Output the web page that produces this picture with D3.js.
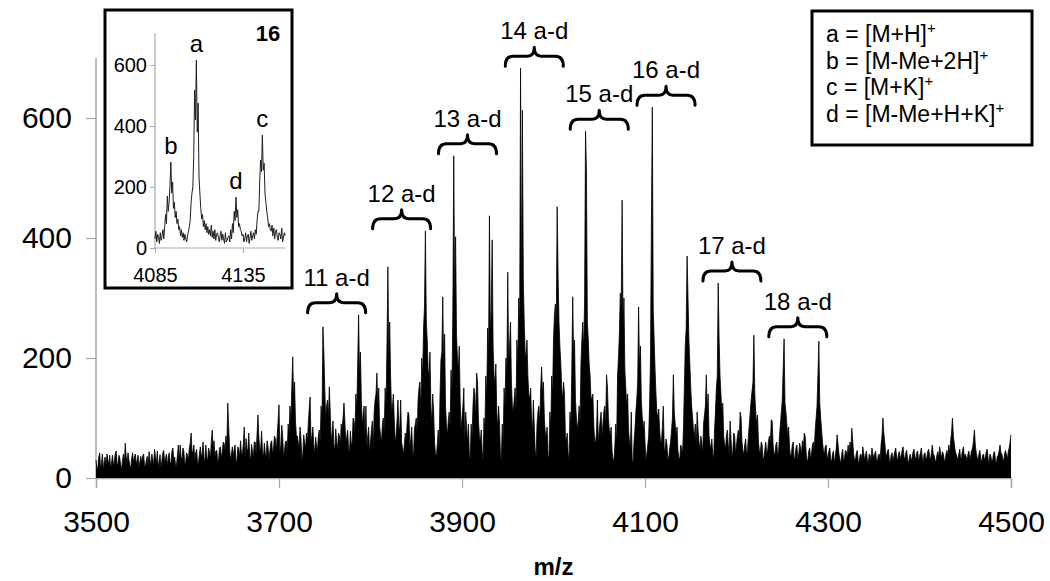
<!DOCTYPE html>
<html><head><meta charset="utf-8">
<script src="https://cdn.jsdelivr.net/npm/d3@7"></script>
<style>
body{margin:0;background:#fff}
svg{display:block}
text{font-family:"Liberation Sans",Arial,Helvetica,sans-serif;fill:#000}
</style>
</head><body>
<svg id="chart" width="1050" height="581"></svg>
<script>
// ---------------- DATA ----------------
const xTicks = [3500, 3700, 3900, 4100, 4300, 4500];
const yTicks = [0, 200, 400, 600];
const xTitle = "m/z";

// background spectrum (incl. peak shoulders), even m/z 3500..4500
const evenStart = 3500, evenStep = 2;
const backgroundEven = [
30,18,42,25,12,35,40,22,15,38,28,45,20,33,14,40,58,25,30,18,42,35,22,38,27,
25,40,18,36,44,20,31,48,24,15,39,28,46,33,19,42,27,50,35,22,40,55,30,45,26,
38,50,62,45,30,48,25,52,40,33,55,28,44,60,50,35,46,30,52,42,58,70,64,48,40,
36,55,30,48,62,40,58,66,45,38,56,33,60,72,68,50,42,58,35,52,45,62,48,66,70,
80,55,70,45,62,90,120,150,130,95,70,50,66,40,58,75,90,100,70,55,68,45,80,120,170,
150,120,100,110,75,55,82,48,70,90,100,95,68,50,78,60,95,140,190,170,130,105,72,50,85,
60,95,110,140,120,85,60,100,150,220,200,150,120,95,70,110,85,60,40,75,90,80,65,45,80,
100,130,160,200,250,300,230,170,120,90,60,35,80,140,210,180,120,70,110,180,280,300,240,180,130,
100,80,110,60,40,90,120,140,130,95,60,45,100,170,250,300,280,220,160,110,70,40,90,150,200,
250,220,160,110,150,230,300,350,320,260,200,170,130,100,70,45,90,120,150,140,100,70,40,110,170,
230,290,320,260,190,130,90,60,40,110,180,200,130,80,120,190,260,300,310,230,170,120,90,60,40,
80,110,90,120,130,100,70,45,30,90,170,240,280,250,180,120,80,50,30,60,110,160,180,130,80,
60,40,70,200,300,230,140,100,80,60,75,45,55,35,60,100,110,70,45,30,50,80,220,270,230,
150,100,70,50,80,45,60,90,120,110,70,50,40,80,150,200,170,110,70,50,80,40,65,45,70,
55,80,90,60,40,65,45,90,130,160,140,90,60,40,55,35,60,45,70,80,55,40,60,45,90,
130,150,110,70,50,40,60,35,55,40,50,62,60,45,30,50,40,60,80,120,150,100,60,40,55,
38,50,28,45,35,72,40,25,48,32,44,55,60,83,40,30,46,25,40,52,30,45,22,38,50,
32,45,28,40,55,100,60,35,48,25,42,36,50,28,44,38,52,30,46,24,40,34,48,30,45,
36,50,26,42,34,48,30,55,38,26,44,52,32,40,28,46,55,62,100,58,40,30,48,36,52,
40,28,45,38,50,80,42,30,46,26,40,34,48,24,36,30,44,22,38,55,40,28,46,32,50,
72
];
// background spectrum, odd m/z 3501..4499
const oddStart = 3501, oddStep = 2;
const backgroundOdd = [
12,35,15,40,28,20,30,38,26,20,40,25,38,22,30,24,35,42,20,33,26,40,30,18,36,
36,22,30,20,30,40,22,35,45,28,18,42,25,40,35,22,45,30,20,38,28,35,50,22,42,
30,58,40,55,42,22,40,35,60,28,35,50,32,38,62,45,28,50,35,60,45,52,85,30,52,
48,25,52,35,40,55,30,48,75,30,45,60,40,52,45,78,35,40,62,30,58,40,70,45,95,
40,88,35,60,40,75,95,110,160,70,60,85,30,72,50,60,115,60,85,40,55,70,60,95,210,
100,130,75,60,95,45,60,75,55,80,110,60,80,40,55,100,75,110,150,210,90,120,55,70,40,
80,50,130,95,150,70,90,75,120,180,260,110,140,60,95,80,130,50,55,60,110,50,85,35,90,
75,150,110,170,200,260,180,210,90,110,40,55,50,120,170,240,90,95,85,140,230,260,200,220,80,
120,55,85,90,30,65,150,100,160,70,80,30,75,130,200,240,320,170,190,80,90,30,60,120,170,
190,260,120,130,110,190,250,290,330,210,230,140,150,75,85,35,110,90,120,160,75,85,30,80,140,
270,250,340,220,150,160,70,75,30,80,150,230,100,95,90,230,210,250,260,190,130,140,60,75,55,
95,70,110,90,150,80,85,30,50,60,200,210,230,300,150,140,60,65,25,80,130,140,220,100,95,
30,55,120,260,280,180,110,115,60,85,50,65,30,50,80,140,90,85,35,55,40,150,250,300,190,
120,80,90,35,60,70,40,105,95,140,55,65,30,110,170,230,140,125,55,70,55,58,35,75,40,
70,60,100,45,55,40,70,110,145,190,110,105,45,60,30,48,40,62,55,95,40,55,35,70,110,
180,125,90,85,35,55,30,50,30,58,40,45,70,28,45,32,55,45,100,170,125,80,45,52,30,
45,30,40,25,50,55,30,40,28,46,36,40,48,62,30,42,28,38,30,42,38,30,40,28,40,
40,30,38,30,70,75,42,45,30,38,28,44,35,40,30,46,36,42,30,35,28,44,36,42,28,
42,34,40,30,44,36,42,40,30,38,32,42,44,30,40,35,42,75,70,45,35,40,30,46,34,
35,40,30,46,62,55,34,40,32,38,30,44,32,40,28,42,30,36,45,42,32,40,38,44,60
];

// peak series n (a,b,c,d ions)
const clusterNo = [9, 10, 11, 12, 13, 14, 15, 16, 17, 18];
const mzA = [3604, 3677, 3748, 3819, 3891, 3964, 4035, 4108, 4180, 4252];
const hA  = [75, 105, 252, 352, 537, 683, 578, 618, 325, 232];
const mzB = [3590, 3662, 3734, 3807, 3879, 3950, 4021, 4093, 4167, 4238];
const hB  = [55, 85, 135, 175, 302, 343, 302, 285, 172, 97];
const mzC = [3644, 3715, 3787, 3860, 3930, 4004, 4075, 4146, 4219, 4290];
const hC  = [125, 202, 272, 412, 437, 452, 463, 370, 238, 228];
const mzD = [3627, 3700, 3771, 3842, 3916, 3987, 4058, 4131, 4204, 4274];
const hD  = [80, 122, 125, 105, 175, 185, 172, 172, 110, 75];

// additional spikes
const extraMz = [3755, 3795, 3822, 3830, 3859, 3868, 3877, 3893, 3902, 3933, 3940, 3953, 3966, 3971, 3978, 4005, 4012, 4036, 4042, 4048, 4073, 4085, 4107, 4120, 4157, 4193];
const extraH  = [152, 120, 168, 130, 285, 140, 197, 402, 150, 397, 120, 230, 613, 200, 130, 300, 140, 512, 135, 130, 308, 110, 425, 120, 110, 95];

const labelledClusters = [11, 12, 13, 14, 15, 16, 17, 18];
const braceLabels = ["11 a-d", "12 a-d", "13 a-d", "14 a-d", "15 a-d", "16 a-d", "17 a-d", "18 a-d"];

// legend
const legendKeys = ["a", "b", "c", "d"];
const legendIons = ["[M+H]", "[M-Me+2H]", "[M+K]", "[M-Me+H+K]"];

// inset: series 16, m/z 4085..4159 every 0.5
const insetStart = 4085, insetStep = 0.5;
const insetValues = [
30,55, 20,45, 35,15, 50,25, 40,60, 30,70, 110,80, 170,120, 150,200, 282,180,
216,130, 150,100, 120,80, 95,60, 70,40, 60,35, 50,25, 45,30, 20,40, 55,70,
90,150, 180,200, 300,518, 420,616, 380,475, 233,180, 130,95, 110,70, 90,60, 80,50,
70,45, 60,40, 75,35, 55,30, 60,25, 45,50, 35,20, 40,55, 25,45, 30,15,
50,20, 25,35, 40,20, 60,30, 80,50, 120,90, 167,100, 125,70, 80,60, 55,40,
45,20, 30,50, 20,40, 45,15, 35,55, 25,40, 50,30, 60,45, 90,120, 120,220,
288,250, 370,255, 278,180, 150,120, 100,70, 80,60, 55,75, 40,65, 30,55, 60,35,
25,50, 45,30, 65,20, 35,50, 40
];
const insetXTicks = [4085, 4135];
const insetYTicks = [0, 200, 400, 600];
const insetTitle = "16";
const insetLetters = ["a", "b", "c", "d"];
const insetLetterMz = [4108.5, 4094, 4146, 4131];
const insetLetterH  = [616, 282, 370, 167];

// ---------------- DRAW ----------------
const svg = d3.select("#chart");
const axisGray = "#a9a9a9";
const FONT = '"Liberation Sans",Arial,sans-serif';

const x = d3.scaleLinear().domain([3500, 4500]).range([96, 1011]);
const y = d3.scaleLinear().domain([0, 600]).range([478, 118]);

// merge background and peaks into one spectrum
const pts = new Map();
backgroundEven.forEach((v, i) => pts.set(evenStart + i * evenStep, v));
backgroundOdd.forEach((v, i) => pts.set(oddStart + i * oddStep, v));
function addPeak(m, h) { pts.set(m, Math.max(h, pts.get(m) || 0)); }
mzA.forEach((m, i) => addPeak(m, hA[i]));
mzB.forEach((m, i) => addPeak(m, hB[i]));
mzC.forEach((m, i) => addPeak(m, hC[i]));
mzD.forEach((m, i) => addPeak(m, hD[i]));
extraMz.forEach((m, i) => addPeak(m, extraH[i]));
const spectrum = Array.from(pts, ([m, v]) => ({m, v})).sort((a, b) => a.m - b.m);

// axes
const gx = svg.append("g").attr("transform", `translate(0,${y(0)})`)
  .call(d3.axisBottom(x).tickValues(xTicks).tickSize(10).tickFormat(d3.format("d")).tickPadding(23));
gx.select(".domain").attr("stroke", axisGray).attr("stroke-width", 1.5);
gx.selectAll(".tick line").attr("stroke", axisGray).attr("stroke-width", 1.2);
gx.selectAll(".tick text").attr("font-size", 30).attr("fill", "#000").attr("font-family", FONT);

const gy = svg.append("g").attr("transform", `translate(${x(3500)},0)`)
  .call(d3.axisLeft(y).tickValues(yTicks).tickSize(10).tickPadding(14));
gy.select(".domain").attr("stroke", axisGray).attr("stroke-width", 1.5)
  .attr("d", `M0,${y(0)}V${y(700)}`);
gy.selectAll(".tick line").attr("stroke", axisGray).attr("stroke-width", 1.2);
gy.selectAll(".tick text").attr("font-size", 30).attr("fill", "#000").attr("font-family", FONT);

// spectrum
svg.append("path").datum(spectrum)
  .attr("d", d3.area().x(d => x(d.m)).y0(y(0)).y1(d => y(d.v)))
  .attr("fill", "#000");
svg.append("path").datum(spectrum)
  .attr("d", d3.line().x(d => x(d.m)).y(d => y(d.v)))
  .attr("fill", "none").attr("stroke", "#000").attr("stroke-width", 0.8);

svg.append("text").attr("x", (x(3500) + x(4500)) / 2).attr("y", 575)
  .attr("text-anchor", "middle").attr("font-size", 24).attr("font-weight", "bold").text(xTitle);

// braces
labelledClusters.forEach((n, i) => {
  const k = clusterNo.indexOf(n);
  const top = Math.max(hA[k], hB[k], hC[k], hD[k]);
  const cx = x(mzA[k] + 15), b = y(top) - 2, w = 29;
  const p = `M${cx - w},${b} Q${cx - w},${b - 10} ${cx - w + 8},${b - 10} L${cx - 7},${b - 10} Q${cx},${b - 10} ${cx},${b - 19} Q${cx},${b - 10} ${cx + 7},${b - 10} L${cx + w - 8},${b - 10} Q${cx + w},${b - 10} ${cx + w},${b}`;
  svg.append("path").attr("d", p).attr("fill", "none").attr("stroke", "#000")
    .attr("stroke-width", 3).attr("stroke-linecap", "round").attr("stroke-linejoin", "round");
  svg.append("text").attr("x", cx).attr("y", b - 27).attr("text-anchor", "middle")
    .attr("font-size", 24).text(braceLabels[i]);
});

// legend
svg.append("rect").attr("x", 812).attr("y", 11).attr("width", 220).attr("height", 134)
  .attr("fill", "#fff").attr("stroke", "#000").attr("stroke-width", 3);
legendKeys.forEach((k, i) => {
  const t = svg.append("text").attr("x", 826).attr("y", 42 + i * 26.5).attr("font-size", 23);
  t.append("tspan").text(`${k} = ${legendIons[i]}`);
  t.append("tspan").attr("font-size", 15).attr("dy", -9).text("+");
});

// inset
svg.append("rect").attr("x", 105).attr("y", 10).attr("width", 187).attr("height", 278)
  .attr("fill", "#fff").attr("stroke", "#000").attr("stroke-width", 3);
const xi = d3.scaleLinear().domain([4085, 4135]).range([155, 243]);
const yi = d3.scaleLinear().domain([0, 600]).range([248, 65]);
const insetData = insetValues.map((v, i) => ({m: insetStart + i * insetStep, v}));

const gxi = svg.append("g").attr("transform", `translate(0,${yi(0)})`)
  .call(d3.axisBottom(xi).tickValues(insetXTicks).tickSize(5).tickPadding(15).tickFormat(d3.format("d")));
gxi.select(".domain").attr("stroke", axisGray).attr("stroke-width", 1.2)
  .attr("d", `M${xi(4085)},0H${xi(4159)}`);
gxi.selectAll(".tick line").attr("stroke", axisGray);
gxi.selectAll(".tick text").attr("font-size", 20).attr("fill", "#000").attr("font-family", FONT);

const gyi = svg.append("g").attr("transform", `translate(${xi(4085)},0)`)
  .call(d3.axisLeft(yi).tickValues(insetYTicks).tickSize(5).tickPadding(3));
gyi.select(".domain").attr("stroke", axisGray).attr("stroke-width", 1.2)
  .attr("d", `M0,${yi(0)}V${yi(705)}`);
gyi.selectAll(".tick line").attr("stroke", axisGray);
gyi.selectAll(".tick text").attr("font-size", 20).attr("fill", "#000").attr("font-family", FONT);

svg.append("path").datum(insetData)
  .attr("d", d3.line().x(d => xi(d.m)).y(d => yi(d.v)))
  .attr("fill", "none").attr("stroke", "#1e1e1e").attr("stroke-width", 1);

svg.append("text").attr("x", 268).attr("y", 41).attr("text-anchor", "middle")
  .attr("font-size", 22).attr("font-weight", "bold").text(insetTitle);
insetLetters.forEach((l, i) => {
  svg.append("text").attr("x", xi(insetLetterMz[i])).attr("y", yi(insetLetterH[i]) - 8)
    .attr("text-anchor", "middle").attr("font-size", 24).text(l);
});
</script>
</body></html>
